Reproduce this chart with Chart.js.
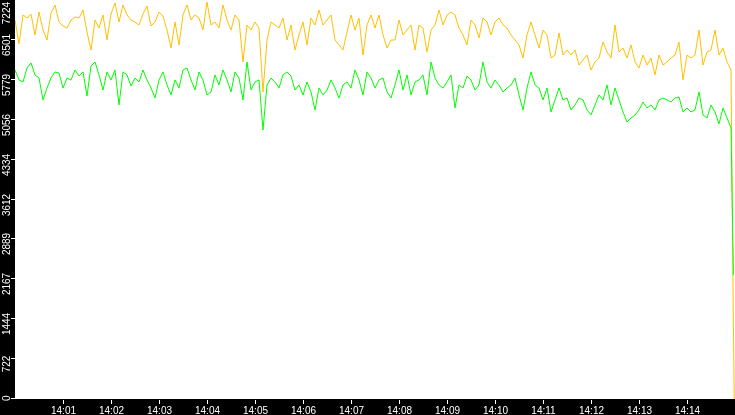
<!DOCTYPE html>
<html>
<head>
<meta charset="utf-8">
<script src="https://cdn.jsdelivr.net/npm/chart.js@4"></script>
<style>
  html, body { margin: 0; padding: 0; background: #000; }
  canvas { display: block; }
</style>
</head>
<body>
<canvas id="chart" width="735" height="415"></canvas>
<script>
// one reading every 5 seconds from 14:00:00
const stepSec = 5;

const orangeValues = [
  6862, 6428, 6953, 6898, 6971, 6591, 7007, 6681, 6500, 6989, 7134, 6826, 6753, 6717, 6862,
  6916, 6898, 7043, 6645, 6319, 6862, 6717, 6953, 6500, 6971, 7170, 6826, 7134, 6953, 6862,
  6826, 6771, 6971, 7115, 6753, 6826, 7007, 6934, 6681, 6355, 6826, 6410, 6953, 7134, 6862,
  6953, 6898, 6681, 7188, 6771, 6826, 6717, 7134, 6862, 6681, 6953, 6862, 6102, 6771, 6681,
  6826, 6717, 5559, 6500, 6826, 6771, 6717, 6898, 6500, 6771, 6319, 6591, 6826, 6410, 6898,
  6771, 7043, 6771, 6862, 6953, 6500, 6410, 6319, 6645, 6953, 6681, 6898, 6228, 6771, 6953,
  6717, 6953, 6591, 6355, 6500, 6500, 6862, 6591, 6681, 6771, 6319, 6771, 6717, 6283, 6681,
  6771, 7043, 6771, 6953, 7007, 6953, 6717, 6591, 6410, 6862, 6771, 6536, 6898, 6826, 6591,
  6826, 6898, 6771, 6717, 6591, 6500, 6410, 6174, 6591, 6826, 6591, 6355, 6681, 6591, 6174,
  6228, 6627, 6228, 6319, 6228, 6319, 6047, 6138, 6228, 5957, 6102, 6174, 6464, 6283, 6174,
  6771, 6283, 6355, 6174, 6410, 6102, 5993, 6228, 6047, 6174, 5867, 6228, 6047, 6102, 6174,
  6228, 6464, 5776, 6228, 6174, 6228, 6681, 6047, 6283, 6319, 6681, 6228, 6355, 6102, 5957
];

const greenValues = [
  5957, 5776, 5740, 5993, 6084, 5867, 5812, 5414, 5631, 5812, 5921, 5903, 5631, 5812, 5776,
  5957, 5848, 5921, 5486, 6029, 6102, 5867, 5595, 5921, 5776, 5957, 5324, 5921, 5867, 5667,
  5812, 5740, 5957, 5776, 5631, 5450, 5776, 5921, 5686, 5505, 5776, 5631, 5957, 5993, 5776,
  5595, 5921, 5776, 5505, 5559, 5867, 5686, 5957, 5776, 5559, 5921, 5812, 5414, 6102, 5595,
  5740, 5776, 4871, 5686, 5812, 5740, 5631, 5867, 5921, 5848, 5595, 5686, 5505, 5740, 5559,
  5233, 5631, 5505, 5595, 5776, 5631, 5450, 5686, 5740, 5631, 5957, 5776, 5505, 5921, 5812,
  5631, 5776, 5812, 5559, 5450, 5686, 5957, 5595, 5867, 5505, 5740, 5776, 5867, 5505, 6102,
  5812, 5686, 5631, 5740, 5867, 5269, 5686, 5631, 5848, 5776, 5595, 5686, 6102, 5740, 5631,
  5776, 5686, 5559, 5631, 5686, 5812, 5505, 5233, 5631, 5921, 5686, 5631, 5414, 5631, 5197,
  5414, 5631, 5414, 5450, 5233, 5324, 5450, 5414, 5233, 5142, 5324, 5505, 5414, 5686, 5324,
  5631, 5414, 5197, 5016, 5088, 5142, 5233, 5378, 5269, 5324, 5233, 5414, 5450, 5414, 5378,
  5450, 5468, 5197, 5269, 5197, 5233, 5559, 5142, 5088, 5324, 5197, 4980, 5269, 5088, 4907
];

// last readings when the feed drops out: [seconds, value]
const orangeTail = [[897, 2826], [899, 0]];
const greenTail = [[898, 2245]];

const yTickValues = [0, 722.4, 1444.8, 2167.2, 2889.6, 3612, 4334.4, 5056.8, 5779.2, 6501.6, 7224];
const yTickLabels = ["0", "722", "1444", "2167", "2889", "3612", "4334", "5056", "5779", "6501", "7224"];
const xTickValues = [60, 120, 180, 240, 300, 360, 420, 480, 540, 600, 660, 720, 780, 840];
const xTickLabels = ["14:01", "14:02", "14:03", "14:04", "14:05", "14:06", "14:07",
  "14:08", "14:09", "14:10", "14:11", "14:12", "14:13", "14:14"];

const toPoints = (vals, tail) =>
  vals.map((v, i) => ({ x: i * stepSec, y: v })).concat(tail.map(p => ({ x: p[0], y: p[1] })));

const labelFont = "10px 'Liberation Sans', sans-serif";

// black frame, white plot area, and the hand-drawn axis labels
const frame = {
  id: "frame",
  beforeDraw(chart) {
    const { ctx, chartArea: a } = chart;
    ctx.save();
    ctx.fillStyle = "#000";
    ctx.fillRect(0, 0, chart.width, chart.height);
    ctx.fillStyle = "#fff";
    ctx.fillRect(a.left, a.top, a.right - a.left, a.bottom - a.top);
    ctx.restore();
  },
  afterDraw(chart) {
    const { ctx, chartArea: a } = chart;
    const xs = chart.scales.x, ys = chart.scales.y;
    ctx.save();
    ctx.strokeStyle = "#fff";
    ctx.fillStyle = "#fff";
    ctx.lineWidth = 1;
    ctx.font = labelFont;

    // y ticks, labels turned on their side
    ys.ticks.forEach((t, i) => {
      const py = Math.round(ys.getPixelForValue(t.value));
      ctx.beginPath();
      ctx.moveTo(a.left - 4, py - 0.5);
      ctx.lineTo(a.left, py - 0.5);
      ctx.stroke();
      const txt = yTickLabels[i];
      const w = ctx.measureText(txt).width;
      let cy = py + 5;
      if (cy - w / 2 < 2) cy = 2 + w / 2;
      if (cy + w / 2 > 401) cy = 401 - w / 2;
      ctx.save();
      ctx.translate(9.5, cy);
      ctx.rotate(-Math.PI / 2);
      ctx.textAlign = "center";
      ctx.textBaseline = "alphabetic";
      ctx.fillText(txt, 0, 0);
      ctx.restore();
    });

    // time ticks
    ctx.textAlign = "center";
    ctx.textBaseline = "alphabetic";
    xs.ticks.forEach((t, i) => {
      const px = Math.round(xs.getPixelForValue(t.value)) + 0.5;
      ctx.beginPath();
      ctx.moveTo(px, a.bottom + 1);
      ctx.lineTo(px, a.bottom + 5);
      ctx.stroke();
      ctx.fillText(xTickLabels[i], px, 414);
    });
    ctx.restore();
  }
};

new Chart(document.getElementById("chart"), {
  type: "line",
  plugins: [frame],
  data: {
    datasets: [
      {
        data: toPoints(orangeValues, orangeTail),
        borderColor: "#ffc000",
        borderWidth: 1,
        pointRadius: 0,
        tension: 0,
        order: 1
      },
      {
        data: toPoints(greenValues, greenTail),
        borderColor: "#00ff00",
        borderWidth: 1,
        pointRadius: 0,
        tension: 0,
        order: 0
      }
    ]
  },
  options: {
    responsive: false,
    animation: false,
    layout: { padding: 0 },
    plugins: { legend: { display: false }, tooltip: { enabled: false } },
    scales: {
      x: {
        type: "linear",
        min: 0,
        max: 900,
        grid: { display: false },
        border: { display: false },
        ticks: { display: false },
        afterBuildTicks: s => { s.ticks = xTickValues.map(v => ({ value: v })); },
        afterFit: s => { s.height = 16; }
      },
      y: {
        min: 0,
        max: 7224,
        grid: { display: false },
        border: { display: false },
        ticks: { display: false },
        afterBuildTicks: s => { s.ticks = yTickValues.map(v => ({ value: v })); },
        afterFit: s => { s.width = 15; }
      }
    }
  }
});
</script>
</body>
</html>
